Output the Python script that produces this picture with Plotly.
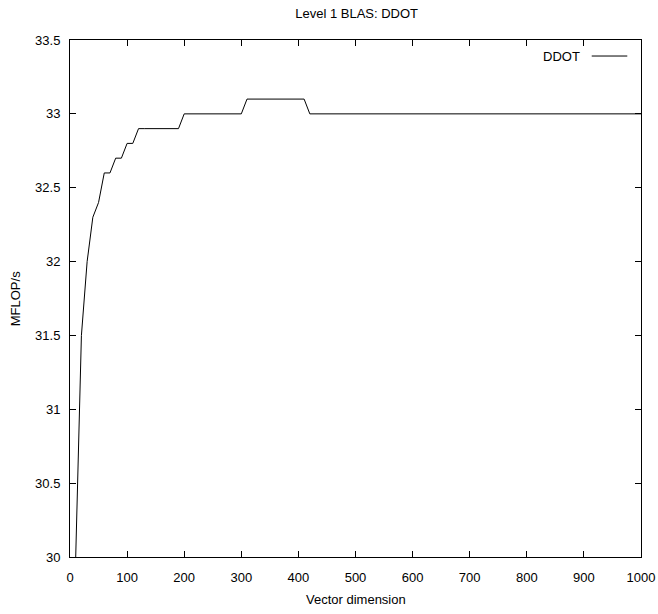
import plotly.graph_objects as go

# Vector dimensions sampled every 10 elements
dims = list(range(10, 1001, 10))

# Measured DDOT throughput (MFLOP/s) at each dimension
mflops = [
    30.0, 31.5, 32.0, 32.3, 32.4, 32.6, 32.6, 32.7, 32.7, 32.8,
    32.8, 32.9, 32.9, 32.9, 32.9, 32.9, 32.9, 32.9, 32.9, 33.0,
    33.0, 33.0, 33.0, 33.0, 33.0, 33.0, 33.0, 33.0, 33.0, 33.0,
    33.1, 33.1, 33.1, 33.1, 33.1, 33.1, 33.1, 33.1, 33.1, 33.1,
    33.1, 33.0, 33.0, 33.0, 33.0, 33.0, 33.0, 33.0, 33.0, 33.0,
    33.0, 33.0, 33.0, 33.0, 33.0, 33.0, 33.0, 33.0, 33.0, 33.0,
    33.0, 33.0, 33.0, 33.0, 33.0, 33.0, 33.0, 33.0, 33.0, 33.0,
    33.0, 33.0, 33.0, 33.0, 33.0, 33.0, 33.0, 33.0, 33.0, 33.0,
    33.0, 33.0, 33.0, 33.0, 33.0, 33.0, 33.0, 33.0, 33.0, 33.0,
    33.0, 33.0, 33.0, 33.0, 33.0, 33.0, 33.0, 33.0, 33.0, 33.0,
]

series_name = "DDOT"
title_text = "Level 1 BLAS: DDOT"
x_title = "Vector dimension"
y_title = "MFLOP/s"

FONT = "Liberation Sans, Arial, sans-serif"
FS = 13

fig = go.Figure()
fig.add_trace(go.Scatter(
    x=dims, y=mflops, mode="lines", name=series_name,
    line=dict(color="black", width=1), showlegend=False,
))

axis_common = dict(
    showline=True, linecolor="black", linewidth=1, mirror="ticks",
    ticks="inside", ticklen=6, tickcolor="black", tickwidth=1,
    showgrid=False, zeroline=False, automargin=False,
    tickfont=dict(family=FONT, size=FS, color="black"),
)

fig.update_layout(
    width=658, height=614,
    margin=dict(l=69.5, r=17, t=40, b=57),
    paper_bgcolor="white", plot_bgcolor="white",
    font=dict(family=FONT, size=FS, color="black"),
    title=dict(text=title_text, x=0.542, xanchor="center",
               y=1 - 13 / 614, yanchor="middle",
               font=dict(family=FONT, size=FS, color="black")),
    xaxis=dict(range=[0, 1000], dtick=100, tick0=0,
               ticklabelstandoff=8, **axis_common),
    yaxis=dict(range=[30, 33.5], dtick=0.5, tick0=30,
               ticklabelstandoff=6, **axis_common),
)

# Axis titles placed as paper-anchored text
fig.add_annotation(
    xref="paper", yref="paper", x=0.5, y=-0.083,
    xanchor="center", yanchor="middle", showarrow=False,
    text=x_title, font=dict(family=FONT, size=FS, color="black"),
)
fig.add_annotation(
    xref="paper", yref="paper", x=-0.095, y=0.5,
    xanchor="center", yanchor="middle", showarrow=False, textangle=-90,
    text=y_title, font=dict(family=FONT, size=FS, color="black"),
)

# Legend entry drawn in the top-right corner: label then line sample
fig.add_annotation(
    xref="paper", yref="paper", x=0.8968, y=0.969,
    xanchor="right", yanchor="middle", showarrow=False,
    text=series_name, font=dict(family=FONT, size=FS, color="black"),
)
fig.add_shape(
    type="line", xref="paper", yref="paper",
    x0=0.9137, x1=0.976, y0=0.969, y1=0.969,
    line=dict(color="black", width=1),
)

fig.write_html("out.html")
